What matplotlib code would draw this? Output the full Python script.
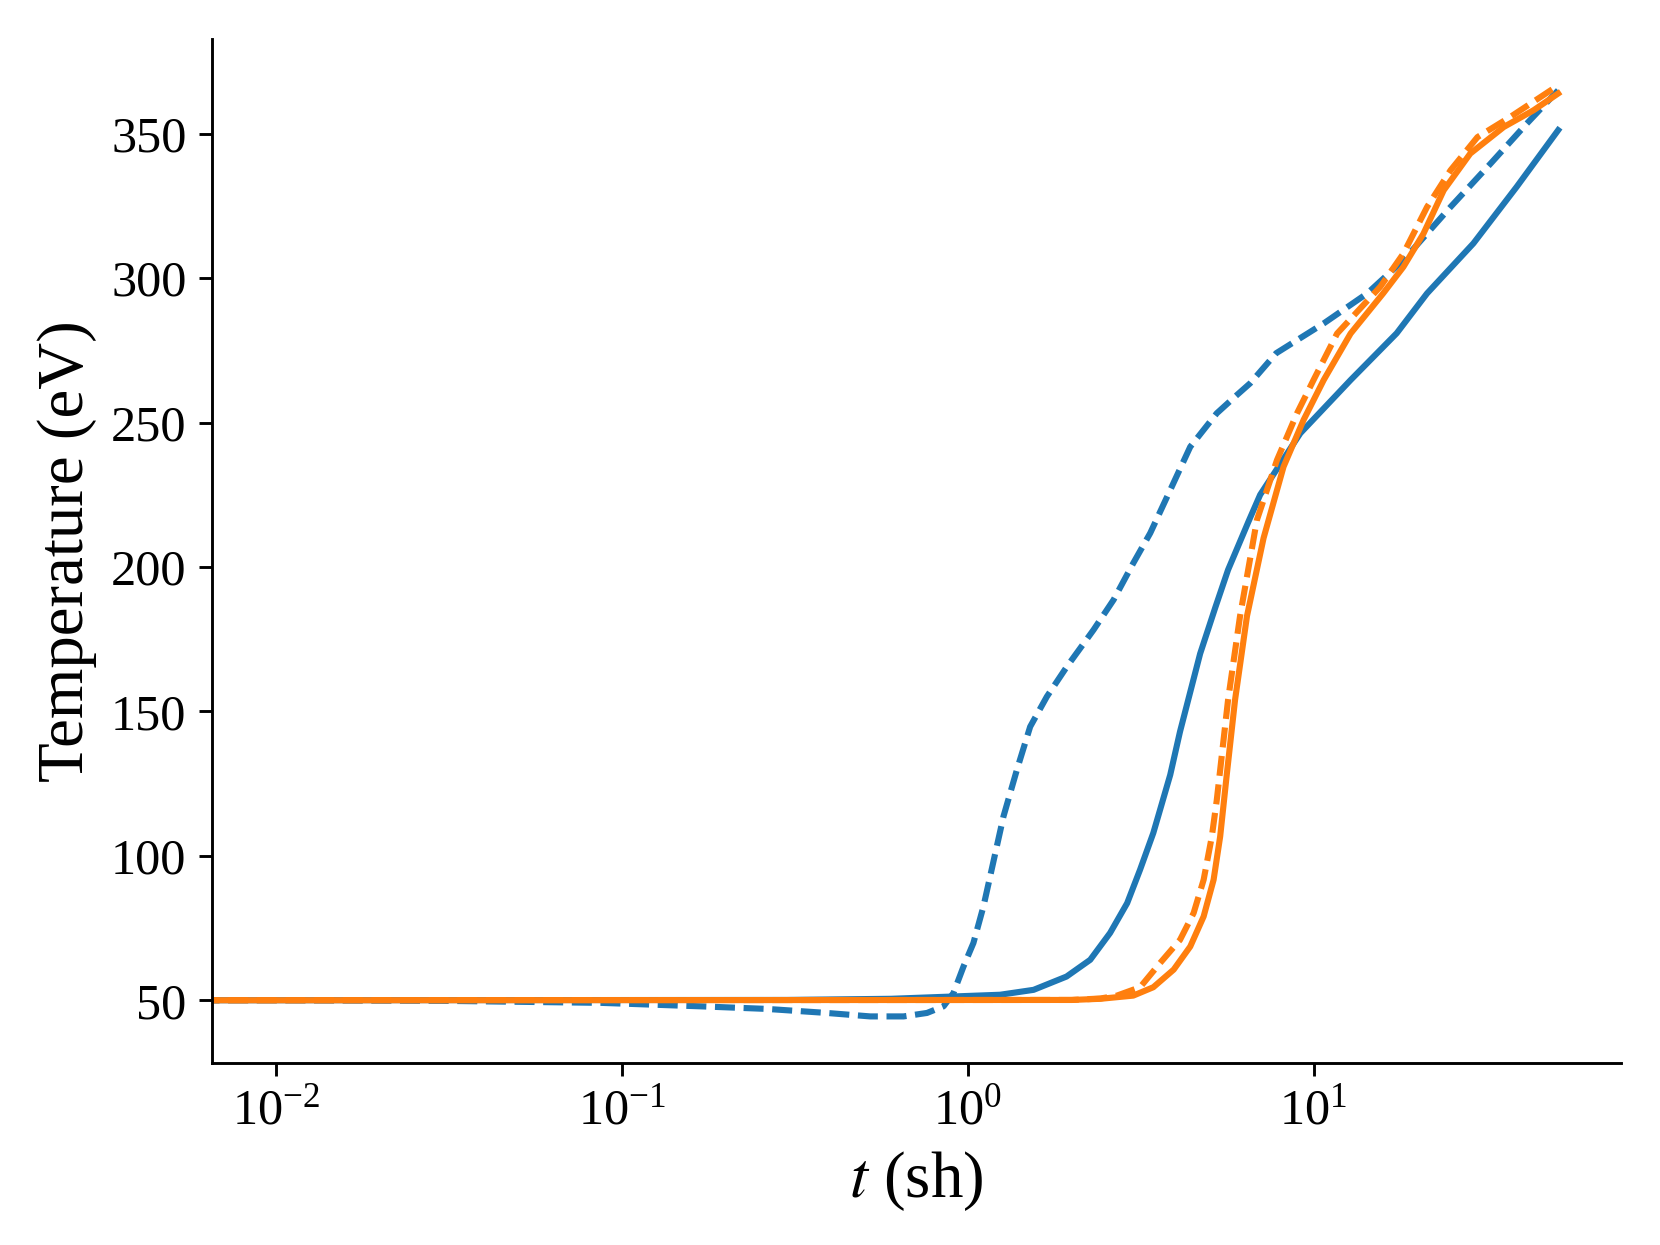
import matplotlib
matplotlib.use("Agg")
import matplotlib.pyplot as plt
from matplotlib.ticker import NullLocator

plt.rcParams['font.family'] = ['Liberation Serif', 'DejaVu Serif']
plt.rcParams['mathtext.fontset'] = 'stix'

# Blue dashed
t_blue_dash = [0, 0.01, 0.03, 0.0865, 0.168, 0.262, 0.391, 0.522, 0.652, 0.762, 0.851,
               0.909, 0.972, 1.038, 1.11, 1.268, 1.387, 1.515, 1.693, 1.935, 2.31,
               2.64, 3.01, 3.37, 3.85, 4.4, 5.25, 6.0, 6.56, 7.8, 10.7, 14.3, 18.2,
               24.9, 32.5, 41.4, 51]
T_blue_dash = [50, 50, 49.8, 49.1, 47.9, 47.0, 45.6, 44.4, 44.4, 45.6, 47.9,
               52.5, 61.7, 69.8, 82.5, 113.6, 129.8, 144.7, 155.1, 165.5, 178.2,
               188.6, 201.3, 211.7, 226.6, 241.6, 253.2, 259.5, 263.6, 274, 284.3, 294.7, 306.2,
               324.6, 339.6, 353.5, 365]

# Blue solid
t_blue = [0, 0.01, 0.3, 0.6, 0.909, 1.24, 1.55, 1.93, 2.26, 2.58, 2.89, 3.15, 3.44,
          3.6, 3.85, 4.11, 4.7, 5.2, 5.66, 6.5, 7.01, 9.16, 12.8, 17.4, 21.3, 29.0, 38.7, 51]
T_blue = [50, 50, 50.1, 50.5, 51.3, 51.9, 53.6, 58.2, 64, 73.3, 83.6, 95.2, 107.9,
          116, 128, 143, 170, 186, 199, 216, 225, 246.3, 264.7, 280.9, 294.7, 312, 331.6, 351.2]

# Orange solid
t_orange = [0, 0.01, 2.0, 2.42, 3.01, 3.44, 3.94, 4.4, 4.81, 5.14, 5.37, 5.61, 5.93,
            6.42, 7.17, 8.19, 9.36, 10.7, 12.8, 15.9, 18.2, 20.8, 23.8, 28.4,
            35.5, 43.3, 51]
T_orange = [50, 50, 50.1, 50.5, 51.6, 54.5, 60.6, 68.6, 79, 91.7, 106.7, 128, 154,
            183, 210, 234.7, 250.9, 264.7, 280.8, 294.7, 303.9, 315.4, 330.4, 343.1,
            352.3, 358.1, 363.9]

# Orange dashed
t_orange_dash = [0, 0.01, 2.0, 2.42, 2.7, 3.15, 3.6, 4.11, 4.5, 4.81, 5.08, 5.25, 5.66,
                 6.13, 6.86, 7.84, 8.96, 10.0, 11.7, 15.6, 18.2, 21.3, 24.9, 29.8, 37.1, 51]
T_orange_dash = [50, 50, 50.1, 50.6, 51.6, 54.5, 62.9, 70.9, 80.2, 91.7, 106.7, 119.3, 154,
                 183, 216.3, 237, 253.2, 264.7, 280.8, 297, 308.5, 324.6, 337.3, 348.8, 355.8, 366.7]

fig = plt.figure(figsize=(6.4, 4.8), dpi=259.4)
ax = fig.add_axes([0.1275, 0.1462, 0.8489, 0.8225])

lw = 1.7
dash = (5.55 / lw, 2.4 / lw)
ax.plot(t_blue, T_blue, color='#1f77b4', lw=lw, ls='-')
ax.plot(t_blue_dash, T_blue_dash, color='#1f77b4', lw=lw, ls=(0, dash))
ax.plot(t_orange, T_orange, color='#ff7f0e', lw=lw, ls='-')
ax.plot(t_orange_dash, T_orange_dash, color='#ff7f0e', lw=lw, ls=(0, dash))

ax.set_xscale('log')
ax.set_xlim(0.0065, 77.5)
ax.xaxis.set_minor_locator(NullLocator())
ax.set_xticks([0.01, 0.1, 1, 10])
ax.set_yticks([50, 100, 150, 200, 250, 300, 350])

ax.spines['top'].set_visible(False)
ax.spines['right'].set_visible(False)
ax.tick_params(labelsize=14)

ax.set_xlabel(r'$t$ (sh)', fontsize=18)
ax.set_ylabel('Temperature (eV)', fontsize=18)

fig.savefig('out.png', dpi=259.4)
